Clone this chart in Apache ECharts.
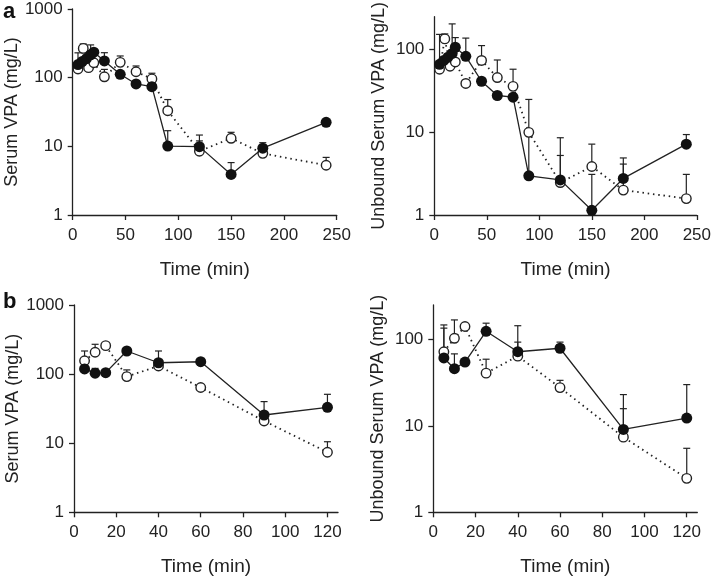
<!DOCTYPE html>
<html><head><meta charset="utf-8">
<script src="https://cdn.jsdelivr.net/npm/echarts@6/dist/echarts.min.js"></script>
<style>html,body{margin:0;padding:0;background:#fff}#c{width:714px;height:579px}</style>
</head><body><div id="c"></div>
<script>
// ---- Panel a (time 0-250 min) ----
const tA_filled = [5, 9, 13, 17, 20, 30, 45, 60, 75, 90, 120, 150, 180, 240];
const tA_open = [5, 10, 15, 20, 30, 45, 60, 75, 90, 120, 150, 180, 240];
// Serum VPA (mg/L)
const aSerumFilled = [155, 172, 190, 215, 235, 175, 112, 81, 74, 10.1, 9.9, 3.9, 9.4, 22.4];
const aSerumFilledUp = [null, null, null, 300, null, 231, null, null, null, 16.9, 14.6, 5.8, 11.3, null];
const aSerumOpen = [134, 267, 140, 165, 103, 167, 122, 96, 33, 8.5, 13.1, 7.9, 5.3];
const aSerumOpenUp = [230, 310, null, null, 132, 207, 148, 116, 48, 12, 16, null, 6.9];
// Unbound Serum VPA (mg/L)
const aUnbFilled = [66.5, 74, 81, 90, 107, 83, 41.5, 27.9, 26.6, 2.98, 2.66, 1.14, 2.77, 7.2];
const aUnbFilledUp = [153, null, null, 205, 140, 138, null, null, null, 25, 8.6, 3.1, 4.9, 9.4];
const aUnbOpen = [58, 135, 63, 71, 39, 74, 46, 36, 10, 2.47, 3.86, 2.0, 1.58];
const aUnbOpenUp = [null, 155, null, null, null, 112, 75, 58, null, 5.25, 7.2, 4.13, 3.1];

// ---- Panel b (time 0-120 min) ----
const tB = [5, 10, 15, 25, 40, 60, 90, 120];
const bSerumFilled = [119, 103, 105, 216, 146, 151, 25.6, 33];
const bSerumFilledUp = [null, 121, null, null, 216, null, 40, 51];
const bSerumOpen = [156, 207, 258, 92, 131, 64, 21, 7.4];
const bSerumOpenUp = [216, 270, null, 115, null, null, null, 10.5];
const bUnbFilled = [61, 45.8, 54.6, 124, 72, 79, 9.1, 12.3];
const bUnbFilledUp = [135, 68, null, 154, 144, 93, 23, 30];
const bUnbOpen = [72, 103, 141, 40.7, 64, 27.7, 7.4, 2.47];
const bUnbOpenUp = [147, 168, null, 59, 93, 33.6, 15.8, 5.5];

// tick labels
const xTicksA = [0, 50, 100, 150, 200, 250];
const xTicksB = [0, 20, 40, 60, 80, 100, 120];
const yTicksSerum = [1, 10, 100, 1000];
const yTicksUnb = [1, 10, 100];

const FONT = 'Liberation Sans, Arial, Helvetica, sans-serif';
const INK = '#222';

const panels = [
  {grid: {left: 72.7, top: 9, width: 264, height: 206}, t1: tA_filled, t2: tA_open, f: aSerumFilled, fu: aSerumFilledUp, o: aSerumOpen, ou: aSerumOpenUp, xmax: 250, xt: xTicksA, ymax: 1000, yt: yTicksSerum, yname: 'Serum VPA (mg/L)', gap: 45},
  {grid: {left: 434.3, top: 7.6, width: 264, height: 207.4}, t1: tA_filled, t2: tA_open, f: aUnbFilled, fu: aUnbFilledUp, o: aUnbOpen, ou: aUnbOpenUp, xmax: 250, xt: xTicksA, ymax: 250, yt: yTicksUnb, yname: 'Unbound Serum VPA (mg/L)', gap: 46},
  {grid: {left: 74, top: 305, width: 264, height: 207.3}, t1: tB, t2: tB, f: bSerumFilled, fu: bSerumFilledUp, o: bSerumOpen, ou: bSerumOpenUp, xmax: 125, xt: xTicksB, ymax: 1000, yt: yTicksSerum, yname: 'Serum VPA (mg/L)', gap: 45},
  {grid: {left: 433.3, top: 305, width: 264, height: 207.3}, t1: tB, t2: tB, f: bUnbFilled, fu: bUnbFilledUp, o: bUnbOpen, ou: bUnbOpenUp, xmax: 125, xt: xTicksB, ymax: 250, yt: yTicksUnb, yname: 'Unbound Serum VPA (mg/L)', gap: 46}
];

function errRender(params, api) {
  const x = api.value(0), v = api.value(1), hi = api.value(2);
  const p0 = api.coord([x, v]);
  const p1 = api.coord([x, hi]);
  const w = 3.5;
  const st = {stroke: INK, lineWidth: 1.2};
  return {type: 'group', children: [
    {type: 'line', shape: {x1: p0[0], y1: p0[1], x2: p1[0], y2: p1[1]}, style: st},
    {type: 'line', shape: {x1: p1[0] - w, y1: p1[1], x2: p1[0] + w, y2: p1[1]}, style: st}
  ]};
}
function pairs(t, v) { return t.map((x, i) => [x, v[i]]); }
function errs(t, v, up) {
  const out = [];
  t.forEach((x, i) => { if (up[i] != null) out.push([x, v[i], up[i]]); });
  return out;
}

const grid = [], xAxis = [], yAxis = [], series = [];
panels.forEach((p, i) => {
  grid.push(p.grid);
  xAxis.push({
    type: 'value', gridIndex: i, min: 0, max: p.xmax,
    name: 'Time (min)', nameLocation: 'middle', nameGap: 45,
    nameTextStyle: {fontFamily: FONT, fontSize: 19, color: INK},
    axisLine: {show: true, lineStyle: {color: INK, width: 1.3}},
    axisTick: {show: true, length: 5, lineStyle: {color: INK, width: 1.3}, customValues: p.xt},
    axisLabel: {fontFamily: FONT, fontSize: 17, color: INK, margin: 12, customValues: p.xt},
    splitLine: {show: false}
  });
  yAxis.push({
    type: 'log', logBase: 10, gridIndex: i, min: 1, max: p.ymax,
    name: p.yname, nameLocation: 'middle', nameGap: p.gap, nameRotate: 90,
    nameTextStyle: {fontFamily: FONT, fontSize: 18, color: INK},
    axisLine: {show: true, lineStyle: {color: INK, width: 1.3}},
    axisTick: {show: true, length: 5, lineStyle: {color: INK, width: 1.3}, customValues: p.yt},
    axisLabel: {fontFamily: FONT, fontSize: 17, color: INK, margin: 10, customValues: p.yt,
                formatter: v => String(Math.round(v))},
    splitLine: {show: false}
  });
  series.push({type: 'custom', xAxisIndex: i, yAxisIndex: i, renderItem: errRender, data: errs(p.t2, p.o, p.ou), z: 2, silent: true});
  series.push({type: 'custom', xAxisIndex: i, yAxisIndex: i, renderItem: errRender, data: errs(p.t1, p.f, p.fu), z: 2, silent: true});
  series.push({
    type: 'line', xAxisIndex: i, yAxisIndex: i, data: pairs(p.t2, p.o),
    symbol: 'circle', symbolSize: 9.5, z: 3,
    lineStyle: {color: INK, width: 1.8, type: [1.5, 3.8], cap: 'butt'},
    itemStyle: {color: '#fff', borderColor: INK, borderWidth: 1.4},
    animation: false
  });
  series.push({
    type: 'line', xAxisIndex: i, yAxisIndex: i, data: pairs(p.t1, p.f),
    symbol: 'circle', symbolSize: 11, z: 4,
    lineStyle: {color: INK, width: 1.3},
    itemStyle: {color: '#111', borderColor: '#111', borderWidth: 0},
    animation: false
  });
});

const chart = echarts.init(document.getElementById('c'), null, {renderer: 'canvas'});
chart.setOption({
  animation: false,
  backgroundColor: '#fff',
  grid, xAxis, yAxis, series,
  graphic: [
    {type: 'text', left: 3, top: 1, style: {text: 'a', font: 'bold 22px ' + FONT, fill: '#111'}},
    {type: 'text', left: 3, top: 291, style: {text: 'b', font: 'bold 22px ' + FONT, fill: '#111'}}
  ]
});
</script></body></html>
